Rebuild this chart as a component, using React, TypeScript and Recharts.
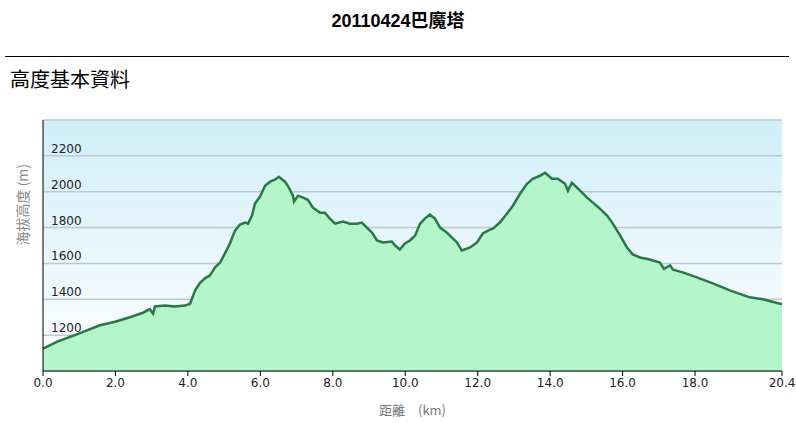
import { AreaChart, Area, XAxis, YAxis, CartesianGrid } from 'recharts'

// distance along the trail (km)
const distanceKm = [
  0.0, 0.41, 0.88, 1.57, 1.99, 2.4, 2.76, 2.95, 3.04, 3.09, 3.37, 3.64, 3.92, 4.06,
  4.2, 4.33, 4.47, 4.61, 4.75, 4.89, 5.02, 5.16, 5.3, 5.44, 5.58, 5.66, 5.77, 5.85,
  5.99, 6.13, 6.27, 6.4, 6.51, 6.68, 6.76, 6.9, 6.93, 7.04, 7.18, 7.31, 7.45, 7.65,
  7.78, 7.92, 8.06, 8.28, 8.47, 8.67, 8.8, 8.94, 9.08, 9.22, 9.38, 9.63, 9.72, 9.85,
  9.99, 10.13, 10.27, 10.41, 10.54, 10.68, 10.82, 10.96, 11.15, 11.29, 11.43, 11.56,
  11.79, 11.98, 12.14, 12.34, 12.42, 12.61, 12.81, 12.97, 13.17, 13.36, 13.52, 13.72,
  13.86, 14.05, 14.21, 14.41, 14.49, 14.6, 14.77, 15.02, 15.18, 15.37, 15.57, 15.73,
  15.93, 16.12, 16.28, 16.48, 16.75, 17.03, 17.14, 17.31, 17.39, 17.66, 18.05, 18.49,
  18.96, 19.51, 19.87, 20.4,
]

// elevation (m)
const elevationM = [
  1125, 1165, 1200, 1255, 1275, 1300, 1325, 1345, 1320, 1360, 1365, 1360, 1365, 1375,
  1450, 1490, 1517, 1533, 1578, 1605, 1655, 1711, 1783, 1817, 1828, 1822, 1867, 1933,
  1972, 2033, 2056, 2067, 2083, 2056, 2033, 1978, 1945, 1978, 1967, 1955, 1911, 1883,
  1883, 1850, 1822, 1833, 1822, 1822, 1828, 1800, 1772, 1728, 1717, 1722, 1700, 1678,
  1711, 1728, 1755, 1822, 1850, 1872, 1850, 1800, 1772, 1744, 1717, 1672,
  1689, 1717, 1767, 1789, 1794, 1828, 1878, 1922, 1989, 2044, 2072, 2089,
  2106, 2072, 2072, 2044, 2005, 2050, 2017, 1967, 1939, 1906, 1867, 1822,
  1756, 1689, 1650, 1633, 1622, 1605, 1570, 1589, 1565, 1550, 1522, 1489,
  1450, 1411, 1400, 1372,
]

const xTicks = [0, 2, 4, 6, 8, 10, 12, 14, 16, 18, 20.4]
const yTicks = [1200, 1400, 1600, 1800, 2000, 2200]

const data = distanceKm.map((d, i) => ({ dist: d, elev: elevationM[i] }))

// y labels sit inside the plot, just above their grid line
const YTick = (props: any) => {
  const { x, y, payload } = props
  return (
    <text x={x + 16} y={y - 3} fontSize={12} fill="#222" fontFamily="DejaVu Sans, Verdana, sans-serif" textAnchor="start">
      {payload.value}
    </text>
  )
}

export default function App() {
  return (
    <div style={{ position: 'absolute', left: 0, top: 0, width: 796, height: 423, background: '#fff' }}>
      <div
        style={{
          position: 'absolute', left: 0, top: 6, width: 796, textAlign: 'center',
          fontFamily: 'Liberation Sans, Arial, "Noto Sans CJK TC", sans-serif', fontWeight: 'bold', fontSize: 18,
        }}
      >
        20110424巴魔塔
      </div>
      <div style={{ position: 'absolute', left: 5, top: 56, width: 784, height: 1, background: '#000' }} />
      <div
        style={{
          position: 'absolute', left: 10, top: 64, fontSize: 20,
          fontFamily: '"Noto Sans CJK TC", sans-serif', color: '#000',
        }}
      >
        高度基本資料
      </div>
      <div style={{ position: 'absolute', left: 0, top: 0 }}>
        <AreaChart width={796} height={423} data={data} margin={{ top: 120, right: 14, left: 13, bottom: 22 }}>
          <defs>
            <linearGradient id="bg" x1="0" y1="0" x2="0" y2="1">
              <stop offset="0%" stopColor="#d0eef9" />
              <stop offset="100%" stopColor="#ffffff" />
            </linearGradient>
          </defs>
          <CartesianGrid vertical={false} stroke="#b9c9cc" fill="url(#bg)" strokeWidth={1.5} />
          <XAxis
            dataKey="dist"
            type="number"
            domain={[0, 20.4]}
            ticks={xTicks}
            tickFormatter={(v: number) => v.toFixed(1)}
            stroke="#000"
            tickSize={5}
            tick={{ fontSize: 12, fill: '#222', fontFamily: 'DejaVu Sans, Verdana, sans-serif' }}
            height={30}
            label={{ value: '距離　(km)', position: 'insideBottom', offset: -14, fill: '#777', fontSize: 13, fontFamily: '"Noto Sans CJK TC", sans-serif' }}
          />
          <YAxis
            type="number"
            domain={[1000, 2400]}
            ticks={yTicks}
            stroke="#000"
            tickLine={false}
            width={30}
            tick={<YTick />}
            label={{ value: '海拔高度 (m)', angle: -90, position: 'insideLeft', offset: 10, fill: '#888', fontSize: 14, fontFamily: '"Noto Sans CJK TC", sans-serif' }}
          />
          <Area
            type="linear"
            dataKey="elev"
            stroke="#257a44"
            strokeWidth={2.5}
            fill="#b4f5c9"
            fillOpacity={1}
            isAnimationActive={false}
            dot={false}
            activeDot={false}
          />
        </AreaChart>
      </div>
    </div>
  )
}
